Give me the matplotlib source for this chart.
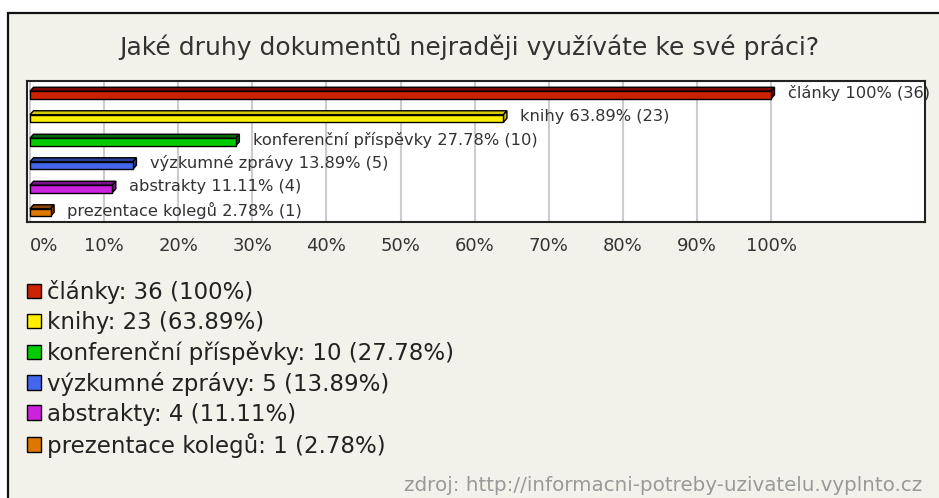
import numpy as np
import matplotlib.pyplot as plt
from matplotlib.patches import Polygon, Rectangle, Patch

plt.rcParams['font.family'] = ['DejaVu Sans']

title = "Jaké druhy dokumentů nejraději využíváte ke své práci?"
categories = ["články", "knihy", "konferenční příspěvky", "výzkumné zprávy",
              "abstrakty", "prezentace kolegů"]
counts = [36, 23, 10, 5, 4, 1]
percents = [100, 63.89, 27.78, 13.89, 11.11, 2.78]
front_colors = ["#cc2200", "#ffee00", "#00cc00", "#4466ee", "#cc22dd", "#dd7700"]
top_colors = ["#7a0800", "#d8c800", "#006a00", "#2a3f99", "#7a1188", "#8a4400"]
xticks = [0, 10, 20, 30, 40, 50, 60, 70, 80, 90, 100]
source = "zdroj: http://informacni-potreby-uzivatelu.vyplnto.cz"

W, H = 939, 498
bg = "#f3f2ea"
fig = plt.figure(figsize=(W / 100, H / 100), dpi=100, facecolor="white")

# outer panel with border on top and left
fig.patches.append(Rectangle((8 / W, -0.1), 1.0, 1.1 - 13 / H, transform=fig.transFigure,
                             facecolor=bg, edgecolor="#111111", linewidth=1.6,
                             zorder=-5))

# plot area (pixels: x 27..925, y 81..222)
ax_l, ax_r, ax_t, ax_b = 27, 925, 81, 222
ax = fig.add_axes([ax_l / W, 1 - ax_b / H, (ax_r - ax_l) / W, (ax_b - ax_t) / H])
ax.set_facecolor("white")
ppx = 741 / 100  # pixels per percent
xmin = -3 / ppx
xmax = 100 + (ax_r - ax_l - 3 - 741) / ppx
ax.set_xlim(xmin, xmax)
n = len(categories)
ax.set_ylim(n - 0.5, -0.5)
for s in ax.spines.values():
    s.set_color("#222222")
    s.set_linewidth(1.5)
ax.set_yticks([])
ax.set_xticks(xticks)
ax.set_xticklabels([f"{t}%" for t in xticks], fontsize=13, color="#333333")
ax.tick_params(axis="x", length=0, pad=11)
ax.get_xticklabels()[0].set_horizontalalignment("left")
ax.grid(axis="x", color="#cccccc", linewidth=1.5)
ax.set_axisbelow(True)

# pixel -> data scale
sx = (xmax - xmin) / (ax_r - ax_l)
sy = n / (ax_b - ax_t)
dx, dy = 3.5 * sx, 4 * sy
for i, (p, fc, tc) in enumerate(zip(percents, front_colors, top_colors)):
    yt = i - 1.5 * sy
    yb = i + 6 * sy
    top = Polygon([(0, yt), (dx, yt - dy), (p + dx, yt - dy), (p, yt)],
                  closed=True, facecolor=tc, edgecolor="black", linewidth=1, zorder=3)
    side = Polygon([(p, yt), (p + dx, yt - dy), (p + dx, yb - dy), (p, yb)],
                   closed=True, facecolor=tc, edgecolor="black", linewidth=1, zorder=3)
    front = Rectangle((0, yt), p, yb - yt, facecolor=fc, edgecolor="black",
                      linewidth=1, zorder=4)
    ax.add_patch(top)
    ax.add_patch(side)
    ax.add_patch(front)
    ax.annotate(f"{categories[i]} {p:g}% ({counts[i]})", xy=(p, i), xytext=(12, 0),
                textcoords="offset points", va="center", ha="left", fontsize=11.7,
                color="#333333", annotation_clip=False, zorder=5)

fig.text(0.5, 1 - 47 / H, title, ha="center", va="center", fontsize=18, color="#333333")

handles = [Patch(facecolor=c, edgecolor="black", linewidth=1) for c in front_colors]
labels = [f"{c}: {v} ({p:g}%)" for c, v, p in zip(categories, counts, percents)]
fig.legend(handles, labels, loc="upper left", bbox_to_anchor=(18 / W, 1 - 271 / H),
           frameon=False, fontsize=16.5, handlelength=0.6, handleheight=0.6,
           handletextpad=0.25, labelspacing=0.3, labelcolor="#222222",
           borderaxespad=0)

fig.text(922 / W, 1 - 485 / H, source, ha="right", va="center", fontsize=14.3,
         color="#999999")

fig.savefig("out.png", dpi=100, facecolor="white")
